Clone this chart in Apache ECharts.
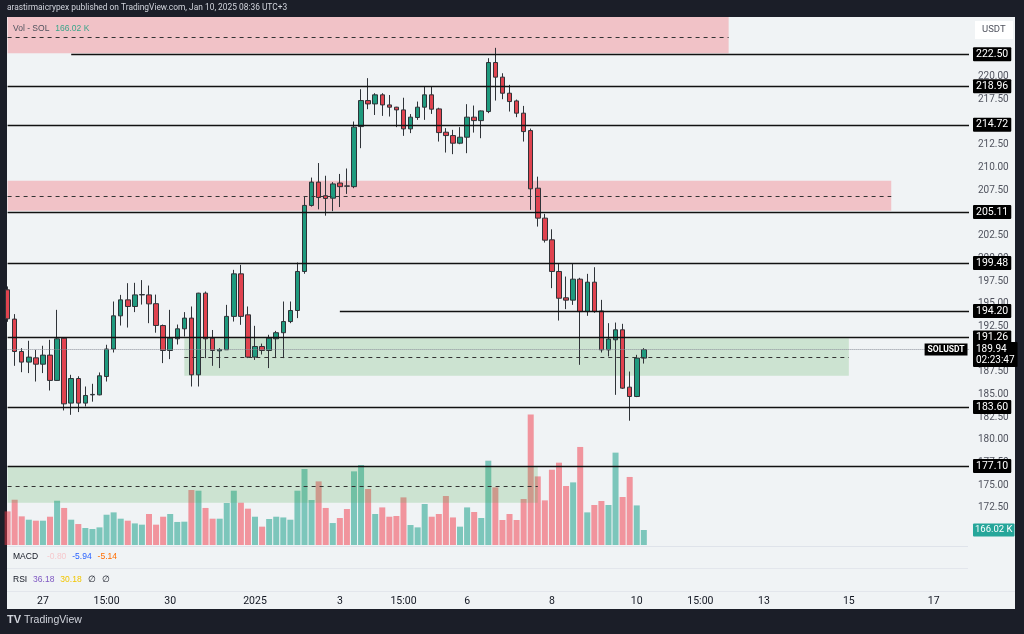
<!DOCTYPE html>
<html><head><meta charset="utf-8">
<script src="https://cdn.jsdelivr.net/npm/echarts@6/dist/echarts.min.js"></script>
<style>html,body{margin:0;padding:0;background:#1b1e28;}#c{width:1024px;height:634px;}</style>
</head><body><div id="c"></div>
<script>
// ---- DATA (SOLUSDT, 4h candles from Dec 26 04:00 UTC) ----
const openP  = [196.53,193.30,189.73,188.56,189.03,188.33,189.33,186.54,191.20,184.04,186.75,184.04,184.95,184.95,186.97,190.00,193.66,195.42,194.69,195.97,195.97,195.00,192.59,189.84,191.13,192.23,193.41,187.16,196.16,191.20,189.80,189.92,193.60,198.29,193.77,189.11,190.28,189.84,191.13,191.80,193.03,194.25,198.55,205.83,208.40,206.90,206.63,208.30,207.98,207.90,214.52,217.39,217.02,218.02,216.91,216.66,216.36,214.27,215.52,216.66,218.02,216.47,213.90,213.53,212.69,213.35,215.56,215.18,216.18,221.58,219.97,218.20,217.35,216.00,214.08,207.73,204.43,202.04,198.55,195.65,195.39,197.70,194.13,197.37,194.20,189.91,191.02,192.12,185.80,184.77,189.00];
const closeP = [193.33,189.73,188.56,189.11,188.33,189.33,186.54,191.13,183.96,186.75,184.04,184.88,185.00,187.05,190.00,193.66,195.42,194.69,195.97,196.00,194.98,192.60,189.84,191.20,192.23,193.41,187.16,196.16,191.13,189.84,189.95,193.60,198.29,193.60,189.11,190.28,189.84,191.20,191.80,193.03,194.25,198.55,205.83,208.40,206.70,206.60,208.20,207.90,207.95,214.46,217.39,217.02,218.02,216.91,216.66,216.36,214.27,215.56,216.66,218.02,216.44,213.86,213.53,212.69,213.35,215.56,215.18,216.25,221.58,219.97,218.20,217.28,216.00,213.97,207.66,204.43,202.00,198.55,195.60,195.39,197.70,194.13,197.37,194.13,189.91,191.10,192.12,185.69,184.77,189.00,189.94];
const lowP   = [193.00,188.15,187.45,187.35,186.42,187.35,185.43,186.50,183.23,182.75,183.05,183.67,184.20,184.90,186.42,189.62,192.59,192.37,194.07,194.90,192.85,191.80,188.45,188.89,190.50,191.38,185.87,185.87,189.00,188.15,187.90,189.90,193.03,192.67,189.00,188.80,189.40,187.90,189.00,189.00,192.85,193.41,198.30,205.70,205.40,204.70,205.20,205.65,207.10,207.73,212.14,216.44,215.80,215.70,215.63,214.46,213.50,213.80,215.26,215.26,215.92,212.87,211.66,211.48,212.58,211.59,213.86,213.24,216.00,217.39,217.54,216.18,215.56,212.87,205.34,203.50,201.74,196.71,193.14,194.40,194.87,188.26,193.66,194.00,189.62,189.18,184.95,185.60,182.10,184.70,188.40];
const highP  = [196.90,193.85,190.10,190.91,189.91,190.36,191.02,194.32,191.30,187.16,187.00,185.87,186.17,187.42,190.47,195.24,195.97,197.26,197.30,197.60,197.00,196.00,192.70,194.32,192.70,194.07,194.69,196.20,196.34,192.10,190.10,194.87,198.73,199.28,194.69,192.56,190.60,191.57,192.00,195.24,195.24,199.54,206.80,208.90,210.50,209.10,208.40,209.30,209.90,215.08,218.64,219.86,218.20,218.20,218.00,216.70,217.70,215.90,217.28,218.93,218.93,216.60,214.35,214.16,214.46,216.99,216.84,216.30,222.06,223.20,220.40,219.12,217.50,216.80,214.30,209.00,204.90,203.20,199.46,197.99,199.46,197.85,198.29,199.02,195.42,192.85,192.92,192.78,187.52,189.36,190.10];
const volumeK = [372,501,317,280,269,269,313,490,410,280,232,188,177,195,335,361,291,269,239,225,343,225,313,343,255,258,609,601,410,291,291,465,601,468,402,313,203,288,313,305,280,601,841,498,704,410,243,299,398,815,885,620,343,416,313,321,527,221,195,454,313,343,542,305,203,416,365,299,933,638,277,343,277,509,1445,759,494,833,911,653,693,1085,361,443,487,443,1022,531,753,438,166.02];

const levels      = [222.50, 218.96, 214.72, 205.11, 199.48, 194.20, 191.26, 183.60, 177.10];
const levelStart  = [9, 0, 0, 0, 0, 47, 0, 0, 0];
const zoneTop     = [226.6, 208.54, 191.20, 177.02];
const zoneBottom  = [222.6, 205.23, 187.05, 173.05];
const zoneMid     = [224.41, 206.89, 189.14, 174.93];
const zoneStart   = [0, 0, 25, 0];
const zoneEnd     = [102, 125, 119, 75];
const zoneKind    = ['supply', 'supply', 'demand', 'demand'];

const lastPrice = 189.94;
const countdown = '02:23:47';
const lastVolumeLabel = '166.02 K';
const priceTicks = [172.5,175,177.5,180,182.5,185,187.5,192.5,195,197.5,200,202.5,207.5,210,212.5,217.5,220];
const timeTickIndex = [5,14,23,35,47,56,65,77,89,98,107,119,131];
const timeTickText  = ['27','15:00','30','2025','3','15:00','6','8','10','15:00','13','15','17'];
const SLOTS = 137;

// categories: 4h slots
const timeSlots = [];
const t0 = Date.UTC(2024, 11, 26, 4);
for (let i = 0; i < SLOTS; i++) {
  const d = new Date(t0 + i * 4 * 3600 * 1000);
  timeSlots.push(d.toISOString().slice(0, 16).replace('T', ' '));
}

const UP = '#1f9a7e', DOWN = '#e0434f';
const candleData = openP.map((o, i) => [o, closeP[i], lowP[i], highP[i]]);
const volData = volumeK.map((v, i) => ({
  value: v,
  itemStyle: { color: closeP[i] >= openP[i] ? 'rgba(8,153,129,0.5)' : 'rgba(242,54,69,0.5)' }
}));

const zoneColor = k => k === 'supply' ? 'rgba(242,54,69,0.26)' : 'rgba(76,175,80,0.22)';
const markAreaData = zoneTop.map((t, i) => [
  { coord: [timeSlots[zoneStart[i]], t], itemStyle: { color: zoneColor(zoneKind[i]) } },
  { coord: [timeSlots[zoneEnd[i]], zoneBottom[i]] }
]);
const boxLabel = {
  show: true, position: 'end', distance: 4, backgroundColor: '#000', color: '#fff',
  fontSize: 10.5, fontFamily: 'Roboto', padding: [2, 3, 1, 3], borderRadius: 1
};
const levelLines = levels.map((v, i) => [
  { coord: [timeSlots[levelStart[i]], v], lineStyle: { color: '#111', width: 1.4, type: 'solid' },
    label: Object.assign({}, boxLabel, { formatter: v.toFixed(2) }) },
  { coord: [timeSlots[SLOTS - 1], v] }
]);
const midLines = zoneMid.map((v, i) => [
  { coord: [timeSlots[zoneStart[i]], v], lineStyle: { color: '#333', width: 1, type: [4, 4] }, label: { show: false } },
  { coord: [timeSlots[zoneEnd[i]], v] }
]);
const priceLine = [
  { coord: [timeSlots[0], lastPrice], lineStyle: { color: '#8a8e99', width: 1, type: 'dotted' },
    label: Object.assign({}, boxLabel, { formatter: lastPrice.toFixed(2) + '\n' + countdown, lineHeight: 11,
      fontSize: 10, padding: [2, 3, 1, 3], offset: [0, 5] }) },
  { coord: [timeSlots[SLOTS - 1], lastPrice] }
];

const chart = echarts.init(document.getElementById('c'), null, { renderer: 'canvas' });
const FONT = 'Roboto';
chart.setOption({
  animation: false,
  backgroundColor: '#1b1e28',
  textStyle: { fontFamily: FONT },
  grid: [
    { left: 7.6, right: 55, top: 17, height: 528 },
    { left: 7.6, right: 55, top: 395, height: 150 }
  ],
  xAxis: [
    { type: 'category', data: timeSlots, boundaryGap: false, gridIndex: 0, offset: 46,
      axisLine: { show: false }, axisTick: { show: false }, splitLine: { show: false },
      axisLabel: { interval: 0, margin: 5, fontSize: 10.5, color: '#131722', fontFamily: FONT,
        formatter: (v, idx) => { const k = timeTickIndex.indexOf(idx); return k < 0 ? '' : timeTickText[k]; } } },
    { type: 'category', data: timeSlots, boundaryGap: false, gridIndex: 1, show: false }
  ],
  yAxis: [
    { type: 'value', gridIndex: 0, position: 'right', min: 168.4, max: 226.6, scale: true,
      axisLine: { show: false }, axisTick: { show: false }, splitLine: { show: false },
      axisLabel: { customValues: priceTicks, margin: 9, fontSize: 10, color: '#50535e', fontFamily: FONT,
        formatter: v => v.toFixed(2) } },
    { type: 'value', gridIndex: 1, min: 0, max: 1660, show: false }
  ],
  series: [
    { type: 'bar', name: 'Vol', xAxisIndex: 1, yAxisIndex: 1, data: volData, barWidth: 6, z: 0,
      markLine: { symbol: 'none', silent: true, z: 6,
        data: [{ yAxis: volumeK[volumeK.length - 1],
          lineStyle: { color: 'rgba(0,0,0,0)', width: 0 },
          label: Object.assign({}, boxLabel, { backgroundColor: '#26a69a', fontSize: 9.5, padding: [2, 2, 1, 2], formatter: lastVolumeLabel }) }] } },
    { type: 'candlestick', name: 'SOLUSDT', xAxisIndex: 0, yAxisIndex: 0, data: candleData, barWidth: 5, z: 2,
      itemStyle: { color: UP, color0: DOWN, borderColor: '#2f3338', borderColor0: '#2f3338', borderWidth: 1 },
      markArea: { silent: true, z: 1, data: markAreaData },
      markLine: { symbol: 'none', silent: true, z: 5, data: midLines.concat(levelLines).concat([priceLine]) },
      markPoint: { silent: true, z: 7, data: [{ coord: [timeSlots[SLOTS - 1], lastPrice], symbol: 'rect', symbolSize: 1,
        itemStyle: { color: 'rgba(0,0,0,0)' },
        label: { show: true, position: 'left', distance: 1, formatter: 'SOLUSDT', backgroundColor: '#000', color: '#fff',
          fontSize: 8.5, fontWeight: 'bold', padding: [2, 3, 1, 3], fontFamily: FONT } }] } }
  ],
  graphic: [
    { type: 'rect', z: -100, shape: { x: 7, y: 17, width: 1008, height: 592 }, style: { fill: '#f0f3f5' } },
    { type: 'rect', z: 10, shape: { x: 7, y: 546, width: 961, height: 1 }, style: { fill: '#dfe3ea' } },
    { type: 'rect', z: 10, shape: { x: 7, y: 568, width: 961, height: 1 }, style: { fill: '#e3e6ec' } },
    { type: 'rect', z: 10, shape: { x: 7, y: 591, width: 1008, height: 1 }, style: { fill: '#e3e6ec' } },
    { type: 'rect', z: 10, shape: { x: 975, y: 21, width: 38, height: 18 }, style: { fill: '#ffffff' } },
    { type: 'text', z: 11, left: 982, top: 25, style: { text: 'USDT', fontSize: 9.5, fill: '#50535e', fontFamily: FONT } },
    { type: 'text', z: 11, left: 7, top: 4, style: { text: 'arastirmaicrypex published on TradingView.com, Jan 10, 2025 08:36 UTC+3', fontSize: 8.4, fill: '#d1d4dc', fontFamily: FONT } },
    { type: 'text', z: 11, left: 13, top: 23, style: { text: '{a|Vol - SOL}  {b|166.02 K}', fontFamily: FONT,
        rich: { a: { fontSize: 8.5, fill: '#50535e' }, b: { fontSize: 8.5, fill: '#3aa58a' } } } },
    { type: 'text', z: 11, left: 13, top: 551, style: { text: '{a|MACD}   {b|-0.80}  {c|-5.94}  {d|-5.14}', fontFamily: FONT,
        rich: { a: { fontSize: 8.5, fill: '#131722' }, b: { fontSize: 8.5, fill: '#f6c9cd' }, c: { fontSize: 8.5, fill: '#2962ff' }, d: { fontSize: 8.5, fill: '#ff6d00' } } } },
    { type: 'text', z: 11, left: 13, top: 574, style: { text: '{a|RSI}  {b|36.18}  {c|30.18}  {a|∅}  {a|∅}', fontFamily: FONT,
        rich: { a: { fontSize: 8.5, fill: '#131722' }, b: { fontSize: 8.5, fill: '#7e57c2' }, c: { fontSize: 8.5, fill: '#f2c600' } } } },
    { type: 'text', z: 11, left: 7, top: 614, style: { text: '{a|TV} {b|TradingView}', fontFamily: FONT,
        rich: { a: { fontSize: 11, fontWeight: 'bold', fill: '#d1d4dc' }, b: { fontSize: 10.5, fill: '#d1d4dc' } } } }
  ]
});
</script>
</body></html>
